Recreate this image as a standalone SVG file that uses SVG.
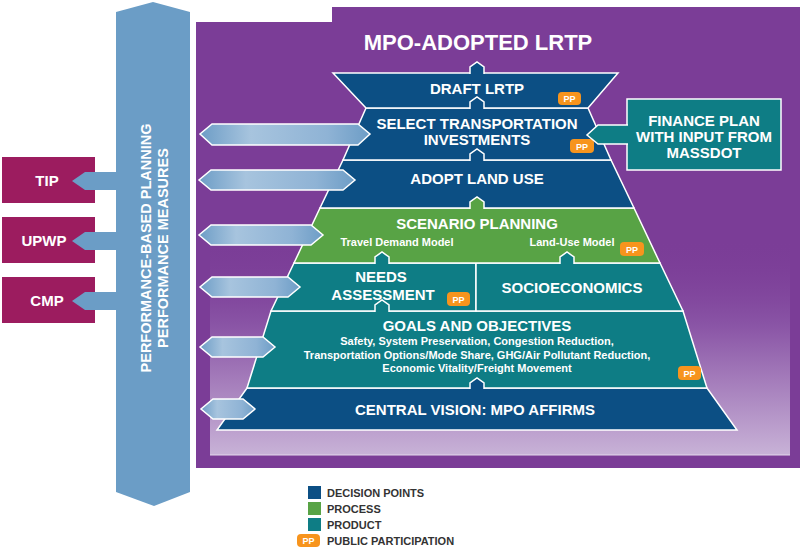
<svg xmlns="http://www.w3.org/2000/svg" width="800" height="550" viewBox="0 0 800 550">
<defs>
<linearGradient id="ag" x1="0" y1="0" x2="1" y2="0">
<stop offset="0" stop-color="#6d9dc6"/><stop offset="0.3" stop-color="#a7c4de"/><stop offset="0.75" stop-color="#8fb3d5"/><stop offset="1" stop-color="#6d9dc6"/>
</linearGradient>
<linearGradient id="pg" x1="0" y1="0" x2="0" y2="1">
<stop offset="0" stop-color="#7b3d97" stop-opacity="0"/><stop offset="0.4" stop-color="#8a55a6"/><stop offset="1" stop-color="#c8b2d7"/>
</linearGradient>
<style>
text{font-family:"Liberation Sans",Arial,sans-serif;font-weight:bold;fill:#fff;text-anchor:middle}
.t{font-size:15px}
.s{font-size:11px}
.db{fill:#0c4f84;stroke:#fff;stroke-width:1.5}
.gr{fill:#58a345;stroke:#fff;stroke-width:1.5}
.te{fill:#0e7d85;stroke:#fff;stroke-width:1.5}
.ar{fill:url(#ag);stroke:#fff;stroke-width:1.5}
.side{fill:#9c1c5f}
.pp{fill:#f7941d}
.ppt{font-size:9px}
.lg{fill:#333;text-anchor:start;font-size:11px}
</style>
</defs>
<polygon points="332,7 800,7 800,468 196,468 196,22 332,22" fill="#7b3d97"/>
<rect x="210" y="240" width="580" height="215" fill="url(#pg)"/>
<line x1="210" y1="455" x2="790" y2="455" stroke="#e4d8ec" stroke-width="1"/>
<g id="column">
<polygon points="116,12 153,2 190,12 190,492 154,506 116,492" fill="#6b9dc6"/>
<text transform="translate(151,248) rotate(-90)" style="font-size:14.5px">PERFORMANCE-BASED PLANNING</text>
<text transform="translate(168,248) rotate(-90)" style="font-size:14.5px">PERFORMANCE MEASURES</text>
</g>
<g id="tip"><rect class="side" x="2" y="157" width="93" height="46"/><text class="t" x="47" y="186">TIP</text></g>
<g id="upwp"><rect class="side" x="2" y="217" width="93" height="46"/><text class="t" x="44" y="246">UPWP</text></g>
<g id="cmp"><rect class="side" x="2" y="277" width="93" height="46"/><text class="t" x="47" y="306">CMP</text></g>
<text x="478" y="50" style="font-size:22px">MPO-ADOPTED LRTP</text>
<g id="central"><polygon class="db" points="217,430 737,430 707,388 247,388"/><text class="t" x="475" y="415">CENTRAL VISION: MPO AFFIRMS</text></g>
<g id="goals"><polygon class="te" points="247,388 707,388 683,311 271,311"/>
<text class="t" x="477" y="331">GOALS AND OBJECTIVES</text>
<text class="s" x="477" y="345">Safety, System Preservation, Congestion Reduction,</text>
<text class="s" x="477" y="359">Transportation Options/Mode Share, GHG/Air Pollutant Reduction,</text>
<text class="s" x="477" y="372">Economic Vitality/Freight Movement</text>
<rect class="pp" x="678" y="366" width="23" height="14" rx="4"/><text class="ppt" x="689.5" y="376.5">PP</text></g>
<g id="needs"><polygon class="te" points="271,311 476,311 476,263 294,263"/>
<text class="t" x="381" y="282">NEEDS</text><text class="t" x="383" y="300">ASSESSMENT</text>
<rect class="pp" x="447" y="292" width="23" height="14" rx="4"/><text class="ppt" x="458.5" y="302.5">PP</text></g>
<g id="socio"><polygon class="te" points="476,311 683,311 660,263 476,263"/><text class="t" x="572" y="293">SOCIOECONOMICS</text></g>
<g id="scenario"><polygon class="gr" points="294,263 660,263 634,208 320,208"/>
<text class="t" x="477" y="229">SCENARIO PLANNING</text>
<text class="s" x="397" y="246">Travel Demand Model</text>
<text class="s" x="572" y="246">Land-Use Model</text>
<rect class="pp" x="620" y="242" width="24" height="14" rx="4"/><text class="ppt" x="632" y="252.5">PP</text></g>
<g id="adopt"><polygon class="db" points="320,208 634,208 611,160 343,160"/><text class="t" x="477" y="184">ADOPT LAND USE</text></g>
<g id="select"><polygon class="db" points="343,160 611,160 588,108 366,108"/>
<text class="t" x="477" y="129">SELECT TRANSPORTATION</text><text class="t" x="477" y="145">INVESTMENTS</text>
<rect class="pp" x="570" y="139" width="24" height="14" rx="4"/><text class="ppt" x="582" y="149.5">PP</text></g>
<g id="draft"><polygon class="db" points="366,108 588,108 618,73 333,73"/><text class="t" x="477" y="94">DRAFT LRTP</text>
<rect class="pp" x="558" y="92" width="23" height="13" rx="4"/><text class="ppt" x="569.5" y="102">PP</text></g>
<g id="notches" stroke="#fff" stroke-width="1.5">
<polyline fill="#0c4f84" points="470,74 470,67 477,62 484,67 484,74"/>
<polyline fill="#0c4f84" points="470,109 470,102 477,97 484,102 484,109"/>
<polyline fill="#0c4f84" points="470,161 470,154 477,149 484,154 484,161"/>
<polyline fill="#58a345" points="470,209 470,202 477,197 484,202 484,209"/>
<polyline fill="#0e7d85" points="375,264 375,257 382,252 389,257 389,264"/>
<polyline fill="#0e7d85" points="560,264 560,257 567,252 574,257 574,264"/>
<polyline fill="#0e7d85" points="375,312 375,305 382,300 389,305 389,312"/>
<polyline fill="#0c4f84" points="470,389 470,383 477,378 484,383 484,389"/>
</g>
<g id="finance"><rect x="627" y="99" width="154" height="71" fill="#0e7d85" stroke="#fff" stroke-width="1.5"/>
<text class="t" x="704" y="126">FINANCE PLAN</text><text class="t" x="704" y="142">WITH INPUT FROM</text><text class="t" x="704" y="158">MASSDOT</text></g>
<g id="connectors">
<polygon points="116,172 85,172 72,181 85,190 116,190" fill="#6b9dc6"/>
<polygon points="116,232 85,232 72,241 85,250 116,250" fill="#6b9dc6"/>
<polygon points="116,292 85,292 72,301 85,310 116,310" fill="#6b9dc6"/>
<polygon class="ar" points="212,124 358,124 370,134 358,145 212,145 200,134"/>
<polygon class="ar" points="211,170 343,170 355,180 343,190 211,190 199,180"/>
<polygon class="ar" points="211,225 311,225 323,235 311,245 211,245 199,235"/>
<polygon class="ar" points="212,277 288,277 300,287 288,297 212,297 200,287"/>
<polygon class="ar" points="212,337 263,337 275,347 263,357 212,357 200,347"/>
<polygon class="ar" points="213,399 243,399 255,409 243,419 213,419 201,409"/>
<polygon points="628,125 598,125 587,135 598,144 628,144" fill="#0e7d85"/>
<polyline points="628,125 598,125 587,135 598,144 628,144" fill="none" stroke="#fff" stroke-width="1.5"/>
</g>
<g id="legend">
<rect x="308" y="486" width="13" height="13" fill="#0c4f84"/><text class="lg" x="327" y="497">DECISION POINTS</text>
<rect x="308" y="502" width="13" height="13" fill="#58a345"/><text class="lg" x="327" y="513">PROCESS</text>
<rect x="308" y="518" width="13" height="13" fill="#0e7d85"/><text class="lg" x="327" y="529">PRODUCT</text>
<rect class="pp" x="297" y="534" width="23" height="13" rx="4"/><text class="ppt" x="308.5" y="544">PP</text><text class="lg" x="327" y="545">PUBLIC PARTICIPATION</text>
</g>
</svg>
